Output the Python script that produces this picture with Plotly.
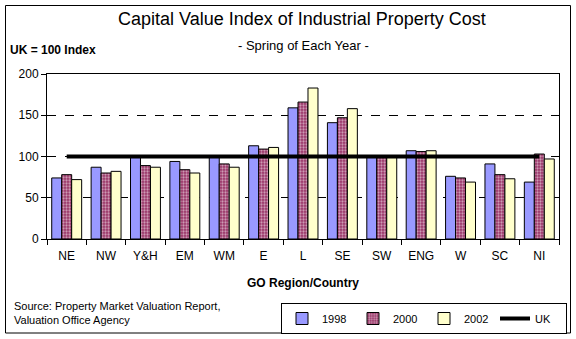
import plotly.graph_objects as go

regions = ["NE", "NW", "Y&H", "EM", "WM", "E", "L", "SE", "SW", "ENG", "W", "SC", "NI"]
idx_1998 = [74, 87, 99, 94, 100, 113, 159, 141, 99, 107, 76, 91, 69]
idx_2000 = [78, 80, 89, 84, 91, 109, 166, 147, 99, 106, 74, 78, 103]
idx_2002 = [72, 82, 87, 80, 87, 111, 183, 158, 99, 107, 69, 73, 97]
uk_level = [100] * len(regions)

FONT = "Liberation Sans, Arial, sans-serif"

# Plot area in pixels: x 47..559, y 74..239
L, R, T, B = 47, 559, 74, 239
W, H = 576, 339


def px(x):
    return (x - L) / (R - L)


def py(y):
    return (B - y) / (B - T)


fig = go.Figure()
fig.add_trace(go.Bar(
    x=regions, y=idx_1998, name="1998",
    marker=dict(color="#9999FF", line=dict(color="black", width=1)),
))
fig.add_trace(go.Bar(
    x=regions, y=idx_2000, name="2000",
    marker=dict(color="#993366", line=dict(color="black", width=1),
                pattern=dict(shape=".", fgcolor="#FFFFFF", bgcolor="#993366",
                             size=3, solidity=0.45)),
))
fig.add_trace(go.Bar(
    x=regions, y=idx_2002, name="2002",
    marker=dict(color="#FFFFCC", line=dict(color="black", width=1)),
))
fig.add_trace(go.Scatter(
    x=regions, y=uk_level, name="UK", mode="lines",
    line=dict(color="black", width=4),
))

shapes = [
    # outer chart frame
    dict(type="rect", xref="paper", yref="paper",
         x0=px(5.5), x1=px(570.5), y0=py(333), y1=py(5.5),
         line=dict(color="black", width=1), layer="below"),
]

annotations = [
    dict(text="Capital Value Index of Industrial Property Cost",
         x=px(302), y=py(19), xref="paper", yref="paper", showarrow=False,
         font=dict(family=FONT, size=18, color="black"), xanchor="center", yanchor="middle"),
    dict(text="- Spring of Each Year -",
         x=px(303), y=py(45), xref="paper", yref="paper", showarrow=False,
         font=dict(family=FONT, size=13, color="black"), xanchor="center", yanchor="middle"),
    dict(text="<b>UK = 100 Index</b>",
         x=px(8), y=py(50), xref="paper", yref="paper", showarrow=False,
         font=dict(family=FONT, size=12, color="black"), xanchor="left", yanchor="middle"),
    dict(text="<b>GO Region/Country</b>",
         x=px(303), y=py(283), xref="paper", yref="paper", showarrow=False,
         font=dict(family=FONT, size=12, color="black"), xanchor="center", yanchor="middle"),
    dict(text="Source: Property Market Valuation Report,<br>Valuation Office Agency",
         x=px(12), y=py(313), xref="paper", yref="paper", showarrow=False, align="left",
         font=dict(family=FONT, size=11, color="black"), xanchor="left", yanchor="middle"),
]

fig.update_layout(
    width=W, height=H,
    margin=dict(l=L, r=W - R, t=T, b=H - B, pad=0, autoexpand=False),
    paper_bgcolor="white", plot_bgcolor="white",
    barmode="group", bargap=0.24, bargroupgap=0,
    font=dict(family=FONT, size=12, color="black"),
    showlegend=True,
    legend=dict(orientation="h", x=px(567), y=py(303), xanchor="right", yanchor="top",
                bordercolor="black", borderwidth=1, bgcolor="white",
                font=dict(family=FONT, size=11), itemwidth=30,
                entrywidth=26, entrywidthmode="pixels",
                tracegroupgap=0, traceorder="normal"),
    shapes=shapes,
    annotations=annotations,
)
fig.update_xaxes(
    type="category", showline=True, linecolor="black", linewidth=1, mirror=True,
    ticks="outside", tickson="boundaries", ticklen=5, tickcolor="black",
    showgrid=False, tickfont=dict(family=FONT, size=12), ticklabelstandoff=6,
)
fig.update_yaxes(
    range=[0, 200], dtick=50, showline=True, linecolor="black", linewidth=1, mirror=True,
    ticks="outside", ticklen=5, tickcolor="black",
    showgrid=True, gridcolor="black", griddash="dash", gridwidth=1,
    zeroline=False, tickfont=dict(family=FONT, size=12),
)

fig.write_html("out.html")
